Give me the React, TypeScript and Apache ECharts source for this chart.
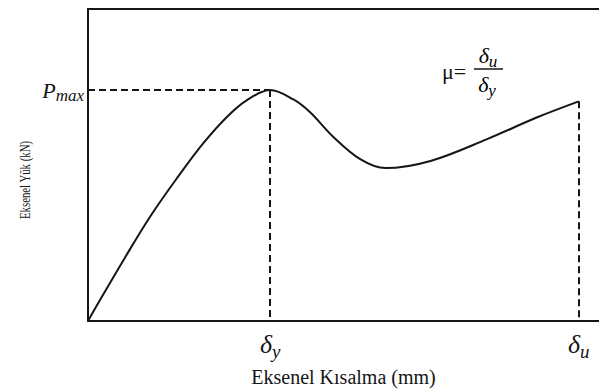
import React, { useEffect, useRef } from "react";
import * as echarts from "echarts";

// Load–shortening curve (x: shortening in arbitrary mm units, y: load in kN units)
const shortening = [0, 0.24, 0.73, 1.23, 1.75, 2.28, 2.77, 3.15, 3.6, 4.06, 4.39, 4.85, 5.38, 5.88, 6.77, 7.89, 8.88, 9.7];
const load = [0, 6.8, 20.3, 33.5, 45.6, 57.0, 65.8, 70.9, 74.0, 71.0, 66.9, 59.0, 51.9, 49.0, 51.3, 58.3, 65.3, 70.4];

const deltaY = 3.6;
const deltaU = 9.7;
const pMax = 74.0;
const pU = 70.4;

const xAxisName = "Eksenel Kısalma (mm)";
const yAxisName = "Eksenel Yük (kN)";

const SERIF = "Liberation Serif";
const INK = "#151515";

const subRich = (big: number, small: number) => ({
  d: { fontFamily: SERIF, fontStyle: "italic", fontSize: big, color: INK, lineHeight: big + 8, verticalAlign: "middle" },
  s: { fontFamily: SERIF, fontStyle: "italic", fontSize: small, color: INK, lineHeight: small, verticalAlign: "bottom" },
});

export default function App() {
  const ref = useRef<HTMLDivElement>(null);
  useEffect(() => {
    if (!ref.current) return;
    const chart = echarts.init(ref.current, undefined, { renderer: "svg" });
    const data = shortening.map((x, i) => [x, load[i]]);
    chart.setOption({
      animation: false,
      textStyle: { fontFamily: SERIF },
      grid: { left: 88, right: 0, top: 9, bottom: 69 },
      xAxis: [
        {
          type: "value",
          min: 0,
          max: 10.1,
          name: xAxisName,
          nameLocation: "middle",
          nameGap: 46,
          nameTextStyle: { fontFamily: SERIF, fontSize: 20, color: INK },
          axisLine: { show: true, onZero: false, lineStyle: { color: INK, width: 2 } },
          axisTick: { show: false },
          axisLabel: { show: false },
          splitLine: { show: false },
        },
        {
          type: "value",
          position: "top",
          min: 0,
          max: 10.1,
          axisLine: { show: true, onZero: false, lineStyle: { color: INK, width: 2 } },
          axisTick: { show: false },
          axisLabel: { show: false },
          splitLine: { show: false },
        },
      ],
      yAxis: {
        type: "value",
        min: 0,
        max: 100,
        axisLine: { show: true, onZero: false, lineStyle: { color: INK, width: 2 } },
        axisTick: { show: false },
        axisLabel: { show: false },
        splitLine: { show: false },
      },
      series: [
        {
          type: "line",
          data,
          smooth: 0.35,
          showSymbol: false,
          lineStyle: { color: INK, width: 2 },
          markLine: {
            silent: true,
            symbol: "none",
            lineStyle: { type: [7, 4], color: INK, width: 2 },
            data: [
              [
                {
                  coord: [0, pMax],
                  label: {
                    show: true,
                    position: "start",
                    distance: 4,
                    formatter: "{p|P}{s|max}",
                    rich: {
                      p: { fontFamily: SERIF, fontStyle: "italic", fontSize: 22, color: INK, lineHeight: 28, verticalAlign: "middle" },
                      s: { fontFamily: SERIF, fontStyle: "italic", fontSize: 17, color: INK, lineHeight: 17, verticalAlign: "bottom" },
                    },
                  },
                },
                { coord: [deltaY, pMax] },
              ],
              [
                {
                  coord: [deltaY, pMax],
                  label: {
                    show: true,
                    position: "end",
                    distance: 6,
                    formatter: "{d|δ}{s|y}",
                    rich: subRich(26, 19),
                  },
                },
                { coord: [deltaY, 0] },
              ],
              [
                {
                  coord: [deltaU, pU],
                  label: {
                    show: true,
                    position: "end",
                    distance: 6,
                    formatter: "{d|δ}{s|u}",
                    rich: subRich(26, 19),
                  },
                },
                { coord: [deltaU, 0] },
              ],
            ],
          },
        },
      ],
      graphic: [
        {
          type: "text",
          x: 25,
          y: 180,
          rotation: Math.PI / 2,
          scaleX: 0.72,
          style: {
            text: yAxisName,
            fontFamily: SERIF,
            fontSize: 15,
            fill: INK,
            align: "center",
            verticalAlign: "middle",
          },
        },
        {
          type: "text",
          x: 442,
          y: 71,
          style: { text: "μ=", fontFamily: SERIF, fontSize: 22, fill: INK, align: "left", verticalAlign: "middle" },
        },
        {
          type: "text",
          x: 488,
          y: 55,
          style: { text: "{d|δ}{s|u}", rich: subRich(22, 17), align: "center", verticalAlign: "middle" },
        },
        {
          type: "line",
          shape: { x1: 474, y1: 69, x2: 503, y2: 69 },
          style: { stroke: INK, lineWidth: 1.5 },
        },
        {
          type: "text",
          x: 487,
          y: 84,
          style: { text: "{d|δ}{s|y}", rich: subRich(22, 17), align: "center", verticalAlign: "middle" },
        },
      ],
    });
    return () => chart.dispose();
  }, []);
  return (
    <div
      ref={ref}
      style={{ position: "fixed", left: 0, top: 0, width: 599, height: 392, background: "#fff" }}
    />
  );
}
